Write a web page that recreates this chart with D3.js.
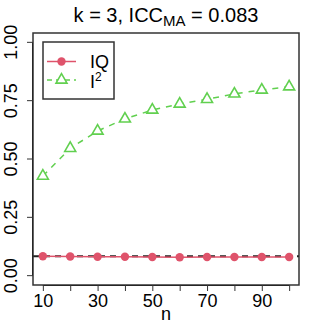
<!DOCTYPE html>
<html>
<head>
<meta charset="utf-8">
<script src="https://cdn.jsdelivr.net/npm/d3@7"></script>
<style>
  body { margin: 0; background: #fff; }
  text { font-family: "Liberation Sans", Arial, sans-serif; fill: #000; }
</style>
</head>
<body>
<svg id="chart" width="332" height="332"></svg>
<script>
// data
var nValues = [10, 20, 30, 40, 50, 60, 70, 80, 90, 100];
var iqValues = [0.083, 0.082, 0.081, 0.081, 0.080, 0.079, 0.080, 0.080, 0.080, 0.080];
var i2Values = [0.427, 0.546, 0.620, 0.672, 0.710, 0.736, 0.756, 0.779, 0.796, 0.810];
var iccMA = 0.083;
var xTicks = [10, 20, 30, 40, 50, 60, 70, 80, 90, 100];
var xTickLabels = [10, 30, 50, 70, 90];
var yTicks = [0, 0.25, 0.5, 0.75, 1];

// geometry
var gwidth = 332, gheight = 332;
var margin = {top: 33, right: 33, bottom: 47, left: 33};
var red = "#DF536B", green = "#61D04F";

var svg = d3.select("#chart");

// R style 4% axis extension
var x = d3.scaleLinear()
  .domain([10 - 0.04 * 90, 100 + 0.04 * 90])
  .range([margin.left, gwidth - margin.right]);
var y = d3.scaleLinear()
  .domain([-0.04, 1.04])
  .range([gheight - margin.bottom, margin.top]);

// title
var title = svg.append("text")
  .attr("x", (margin.left + gwidth - margin.right) / 2)
  .attr("y", 22)
  .attr("text-anchor", "middle")
  .style("font-size", "20px");
title.append("tspan").text("k = 3, ICC");
title.append("tspan").attr("dy", 4).style("font-size", "15px").text("MA");
title.append("tspan").attr("dy", -4).text(" = " + d3.format(".3f")(iccMA));

// x axis
var xAxis = d3.axisBottom(x)
  .tickValues(xTicks)
  .tickSize(6)
  .tickFormat(function(d) { return xTickLabels.indexOf(d) >= 0 ? d : ""; });
var xg = svg.append("g")
  .attr("transform", "translate(0," + (gheight - margin.bottom) + ")")
  .call(xAxis);
xg.select(".domain").attr("d", "M" + x(10) + ",0.5H" + x(100));
xg.selectAll("line").attr("stroke", "#333");
xg.selectAll("text").style("font-size", "18px").attr("dy", "0.95em")
  .attr("y", 5).style("font-family", "'Liberation Sans', Arial, sans-serif");

// y axis
var yAxis = d3.axisLeft(y)
  .tickValues(yTicks)
  .tickSize(6)
  .tickFormat(d3.format(".2f"));
var yg = svg.append("g")
  .attr("transform", "translate(" + margin.left + ",0)")
  .call(yAxis);
yg.select(".domain").attr("d", "M-0.5," + y(0) + "V" + y(1));
yg.selectAll("line").attr("stroke", "#333");
yg.selectAll("text")
  .style("font-size", "18px")
  .style("font-family", "'Liberation Sans', Arial, sans-serif")
  .attr("text-anchor", "middle")
  .attr("x", null).attr("dy", null)
  .attr("transform", function(d) { return "translate(-16," + y(d) + ") rotate(-90)"; })
  .attr("y", 0);
yg.selectAll(".tick").attr("transform", null);
yg.selectAll(".tick line").attr("transform", function(d) { return "translate(0," + y(d) + ")"; });

// axis label
svg.append("text")
  .attr("x", (margin.left + gwidth - margin.right) / 2)
  .attr("y", 320)
  .attr("text-anchor", "middle")
  .style("font-size", "18px")
  .text("n");

// reference line
svg.append("line")
  .attr("x1", margin.left).attr("x2", gwidth - margin.right)
  .attr("y1", y(iccMA)).attr("y2", y(iccMA))
  .attr("stroke", "#222").attr("stroke-width", 2)
  .attr("stroke-dasharray", "6,5");

// IQ series
var line = d3.line();
svg.append("path")
  .attr("d", line(nValues.map(function(n, i) { return [x(n), y(iqValues[i])]; })))
  .attr("fill", "none").attr("stroke", red).attr("stroke-width", 1.5);
svg.selectAll(".iq").data(nValues).enter().append("circle")
  .attr("cx", function(d) { return x(d); })
  .attr("cy", function(d, i) { return y(iqValues[i]); })
  .attr("r", 4.2)
  .attr("fill", red);

// I2 series
svg.append("path")
  .attr("d", line(nValues.map(function(n, i) { return [x(n), y(i2Values[i])]; })))
  .attr("fill", "none").attr("stroke", green).attr("stroke-width", 1.5)
  .attr("stroke-dasharray", "6,6");
var tri = d3.symbol().type(d3.symbolTriangle).size(52);
svg.selectAll(".i2").data(nValues).enter().append("path")
  .attr("d", tri)
  .attr("transform", function(d, i) { return "translate(" + x(d) + "," + y(i2Values[i]) + ")"; })
  .attr("fill", "#fff").attr("stroke", green).attr("stroke-width", 1.6);

// box
svg.append("rect")
  .attr("x", margin.left).attr("y", margin.top)
  .attr("width", gwidth - margin.left - margin.right)
  .attr("height", gheight - margin.top - margin.bottom)
  .attr("fill", "none").attr("stroke", "#333").attr("stroke-width", 1.5);

// legend
var lg = svg.append("g");
lg.append("rect")
  .attr("x", 43).attr("y", 42).attr("width", 71).attr("height", 57)
  .attr("fill", "#fff").attr("stroke", "#333").attr("stroke-width", 1.5);
lg.append("line").attr("x1", 47).attr("x2", 76).attr("y1", 61.5).attr("y2", 61.5)
  .attr("stroke", red).attr("stroke-width", 1.5);
lg.append("circle").attr("cx", 61.5).attr("cy", 61.5).attr("r", 4.2).attr("fill", red);
lg.append("line").attr("x1", 47).attr("x2", 76).attr("y1", 80).attr("y2", 80)
  .attr("stroke", green).attr("stroke-width", 1.5).attr("stroke-dasharray", "5,4");
lg.append("path").attr("d", tri).attr("transform", "translate(61.5,80)")
  .attr("fill", "#fff").attr("stroke", green).attr("stroke-width", 1.6);
lg.append("text").attr("x", 90).attr("y", 68).style("font-size", "18px").text("IQ");
var l2 = lg.append("text").attr("x", 90).attr("y", 88).style("font-size", "18px");
l2.append("tspan").text("I");
l2.append("tspan").attr("dy", -7).style("font-size", "12px").text("2");
</script>
</body>
</html>
